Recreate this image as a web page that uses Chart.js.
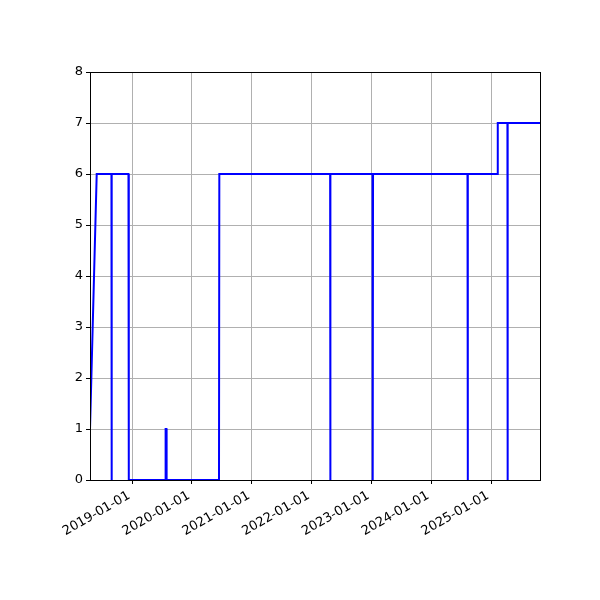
<!DOCTYPE html>
<html>
<head>
<meta charset="utf-8">
<script src="https://cdn.jsdelivr.net/npm/chart.js@4.4.1/dist/chart.umd.min.js"></script>
<style>
html,body{margin:0;padding:0;background:#fff;}
canvas{display:block;}
</style>
</head>
<body>
<canvas id="c" width="600" height="600" style="width:600px;height:600px"></canvas>
<script>
// Data
const dates = ['2018-04-18','2018-05-29','2018-08-27','2018-08-28','2018-08-29','2018-12-09','2018-12-11',
  '2019-07-23','2019-07-24','2019-07-29','2019-07-30','2020-06-14','2020-06-16',
  '2022-04-24','2022-04-25','2022-04-26','2023-01-08','2023-01-09','2023-01-11',
  '2024-08-10','2024-08-11','2024-08-13','2025-02-09','2025-02-11',
  '2025-04-11','2025-04-12','2025-04-13','2025-10-27'];
const values = [1,6,6,0,6,6,0,
  0,1,1,0,0,6,
  6,0,6,6,0,6,
  6,0,6,6,7,
  7,0,7,7];
const tickYears = [2019,2020,2021,2022,2023,2024,2025];
const yTicks = [0,1,2,3,4,5,6,7,8];

const toMs = s => Date.parse(s + 'T00:00:00Z');
const points = dates.map((d,i)=>({x: toMs(d), y: values[i]}));
const pad2 = n => String(n).padStart(2,'0');
const fmt = v => { const d = new Date(v); return d.getUTCFullYear()+'-'+pad2(d.getUTCMonth()+1)+'-'+pad2(d.getUTCDate()); };

const frame = {
  id:'frame',
  afterDraw(chart){
    const {ctx, chartArea:a} = chart;
    ctx.save();
    ctx.strokeStyle='#000'; ctx.lineWidth=1;
    ctx.strokeRect(a.left+0.5, a.top+0.5, a.right-a.left, a.bottom-a.top);
    ctx.restore();
  }
};

new Chart(document.getElementById('c'), {
  type:'line',
  data:{datasets:[{data:points, borderColor:'#0000ff', borderWidth:2, pointRadius:0, tension:0, fill:false}]},
  options:{
    responsive:false, animation:false, devicePixelRatio:1,
    layout:{padding:{top:72, right:60, left:0, bottom:0}},
    plugins:{legend:{display:false}, tooltip:{enabled:false}},
    scales:{
      x:{type:'linear', min:toMs(dates[0]), max:toMs(dates[dates.length-1]),
        afterBuildTicks(s){ s.ticks = tickYears.map(y=>({value: Date.UTC(y,0,1)})); },
        afterFit(s){ s.height = 120; },
        grid:{color:'#b0b0b0', lineWidth:1, tickColor:'#000', tickLength:4},
        border:{color:'#000', width:1},
        ticks:{autoSkip:false, maxRotation:30, minRotation:30, color:'#000', padding:4, labelOffset:-3,
          font:{family:'DejaVu Sans', size:13}, callback:(v)=>fmt(v)}
      },
      y:{min:0, max:8,
        afterBuildTicks(s){ s.ticks = yTicks.map(v=>({value:v})); },
        afterFit(s){ s.width = 90; },
        grid:{color:'#b0b0b0', lineWidth:1, tickColor:'#000', tickLength:4},
        border:{color:'#000', width:1},
        ticks:{color:'#000', padding:3, font:{family:'DejaVu Sans', size:13}}
      }
    }
  },
  plugins:[frame]
});
</script>
</body>
</html>
